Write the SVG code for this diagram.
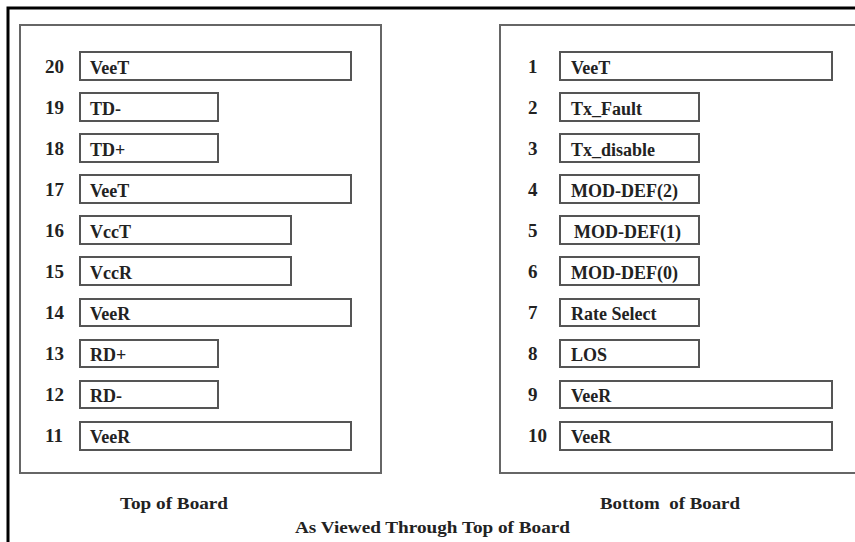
<svg xmlns="http://www.w3.org/2000/svg" width="855" height="542" viewBox="0 0 855 542">
<style>
text{font-family:"Liberation Serif","Times New Roman",serif;font-weight:bold;fill:#222;}
.n{font-size:19px;}
.l{font-size:18px;}
.cap{font-size:17px;white-space:pre;}
.pin{fill:#fff;stroke:#555;stroke-width:2;}
.panel{fill:#fff;stroke:#666;stroke-width:2;}
</style>
<rect width="855" height="542" fill="#fff"/>
<path d="M8 542 V8 H855" fill="none" stroke="#000" stroke-width="3"/>
<g id="top-board">
<rect class="panel" x="20" y="25" width="361" height="448"/>
</g>
<g id="bottom-board">
<rect class="panel" x="500" y="25" width="360" height="448"/>
</g>
<g id="pin20"><text class="n" x="45" y="73">20</text><rect class="pin" x="80" y="52" width="271" height="28"/><text class="l" x="90" y="74">VeeT</text></g>
<g id="pin19"><text class="n" x="45" y="114">19</text><rect class="pin" x="80" y="93" width="138" height="28"/><text class="l" x="90" y="115">TD-</text></g>
<g id="pin18"><text class="n" x="45" y="155">18</text><rect class="pin" x="80" y="134" width="138" height="28"/><text class="l" x="90" y="156">TD+</text></g>
<g id="pin17"><text class="n" x="45" y="196">17</text><rect class="pin" x="80" y="175" width="271" height="28"/><text class="l" x="90" y="197">VeeT</text></g>
<g id="pin16"><text class="n" x="45" y="237">16</text><rect class="pin" x="80" y="216" width="211" height="28"/><text class="l" x="90" y="238">VccT</text></g>
<g id="pin15"><text class="n" x="45" y="278">15</text><rect class="pin" x="80" y="257" width="211" height="28"/><text class="l" x="90" y="279">VccR</text></g>
<g id="pin14"><text class="n" x="45" y="319">14</text><rect class="pin" x="80" y="299" width="271" height="27"/><text class="l" x="90" y="320">VeeR</text></g>
<g id="pin13"><text class="n" x="45" y="360">13</text><rect class="pin" x="80" y="340" width="138" height="27"/><text class="l" x="90" y="361">RD+</text></g>
<g id="pin12"><text class="n" x="45" y="401">12</text><rect class="pin" x="80" y="381" width="138" height="27"/><text class="l" x="90" y="402">RD-</text></g>
<g id="pin11"><text class="n" x="45" y="442">11</text><rect class="pin" x="80" y="422" width="271" height="28"/><text class="l" x="90" y="443">VeeR</text></g>
<g id="pin1"><text class="n" x="528" y="73">1</text><rect class="pin" x="560" y="52" width="272" height="28"/><text class="l" x="571" y="74">VeeT</text></g>
<g id="pin2"><text class="n" x="528" y="114">2</text><rect class="pin" x="560" y="93" width="139" height="28"/><text class="l" x="571" y="115">Tx_Fault</text></g>
<g id="pin3"><text class="n" x="528" y="155">3</text><rect class="pin" x="560" y="134" width="139" height="28"/><text class="l" x="571" y="156">Tx_disable</text></g>
<g id="pin4"><text class="n" x="528" y="196">4</text><rect class="pin" x="560" y="175" width="139" height="28"/><text class="l" x="571" y="197">MOD-DEF(2)</text></g>
<g id="pin5"><text class="n" x="528" y="237">5</text><rect class="pin" x="560" y="216" width="139" height="28"/><text class="l" x="574" y="238">MOD-DEF(1)</text></g>
<g id="pin6"><text class="n" x="528" y="278">6</text><rect class="pin" x="560" y="257" width="139" height="28"/><text class="l" x="571" y="279">MOD-DEF(0)</text></g>
<g id="pin7"><text class="n" x="528" y="319">7</text><rect class="pin" x="560" y="299" width="139" height="27"/><text class="l" x="571" y="320">Rate Select</text></g>
<g id="pin8"><text class="n" x="528" y="360">8</text><rect class="pin" x="560" y="340" width="139" height="27"/><text class="l" x="571" y="361">LOS</text></g>
<g id="pin9"><text class="n" x="528" y="401">9</text><rect class="pin" x="560" y="381" width="272" height="27"/><text class="l" x="571" y="402">VeeR</text></g>
<g id="pin10"><text class="n" x="528" y="442">10</text><rect class="pin" x="560" y="422" width="272" height="28"/><text class="l" x="571" y="443">VeeR</text></g>
<g id="connectors"></g>
<g id="captions">
<text class="cap" x="120" y="509" textLength="108" lengthAdjust="spacingAndGlyphs">Top of Board</text>
<text class="cap" x="600" y="509" textLength="140" lengthAdjust="spacingAndGlyphs">Bottom  of Board</text>
<text class="cap" x="295" y="533" textLength="275" lengthAdjust="spacingAndGlyphs">As Viewed Through Top of Board</text>
</g>
</svg>
